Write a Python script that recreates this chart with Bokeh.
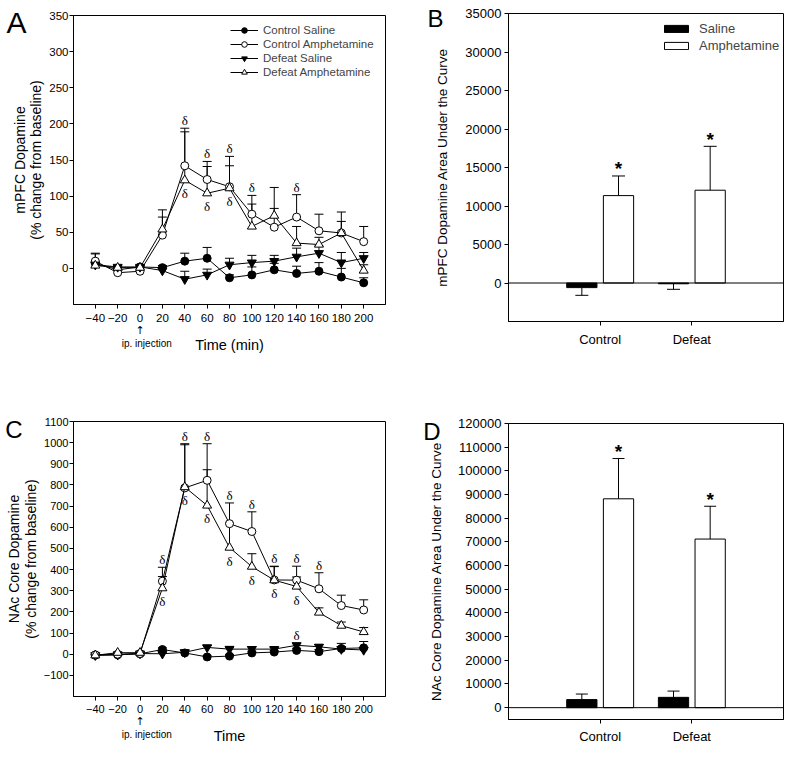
from bokeh.plotting import figure
from bokeh.layouts import column, row
from bokeh.models import (Range1d, FixedTicker, Whisker, TeeHead, ColumnDataSource,
                          Legend, LegendItem, Span, BasicTickFormatter, LinearAxis)
from bokeh.core.properties import value
from bokeh.embed import file_html
from bokeh.resources import INLINE

FONT = "Liberation Sans"
SERIF = "Liberation Serif"

# ---------------- data ----------------
time_min = [-40, -20, 0, 20, 40, 60, 80, 100, 120, 140, 160, 180, 200]
time_ticks = [-40, -20, 0, 20, 40, 60, 80, 100, 120, 140, 160, 180, 200]

a_ctrl_sal = [7, -2, 2, 1, 10, 14, -13, -9, -2, -7, -4, -12, -20]
a_ctrl_sal_err = [14, 3, 2, 3, 11, 15, 4, 11, 9, 10, 12, 12, 7]
a_ctrl_amph = [10, -6, -4, 46, 142, 123, 113, 75, 57, 71, 52, 49, 37]
a_ctrl_amph_err = [10, 3, 3, 25, 52, 25, 42, 26, 26, 31, 23, 29, 21]
a_def_sal = [5, 2, 2, -3, -15, -9, 5, 8, 10, 16, 21, 8, 14]
a_def_sal_err = [3, 2, 2, 3, 11, 8, 9, 10, 8, 12, 10, 14, 8]
a_def_amph = [4, 1, 1, 54, 122, 104, 111, 58, 73, 35, 33, 49, -3]
a_def_amph_err = [5, 2, 2, 27, 67, 37, 31, 31, 39, 23, 10, 16, 8]
a_delta_above = [40, 60, 80, 100, 140]
a_delta_below = [40, 60, 80]
a_yticks = [0, 50, 100, 150, 200, 250, 300, 350]

c_ctrl_sal = [-5, -3, 2, 22, 6, -13, -9, 6, 10, 18, 12, 27, 30]
c_ctrl_sal_err = [4, 3, 3, 8, 10, 6, 8, 8, 8, 10, 10, 24, 30]
c_ctrl_amph = [-3, 0, 3, 345, 786, 822, 617, 580, 351, 350, 309, 230, 209]
c_ctrl_amph_err = [4, 4, 4, 66, 209, 173, 98, 93, 65, 66, 76, 49, 48]
c_def_sal = [-5, -3, 3, 2, 9, 32, 24, 24, 24, 42, 35, 24, 20]
c_def_sal_err = [3, 3, 3, 5, 10, 10, 13, 12, 8, 10, 10, 10, 8]
c_def_amph = [-5, 7, 7, 312, 790, 703, 504, 414, 350, 320, 197, 135, 105]
c_def_amph_err = [4, 4, 4, 55, 200, 169, 116, 61, 64, 45, 22, 17, 21]
c_delta_above = [20, 40, 60, 80, 100, 120, 140, 160]
c_delta_below = [20, 40, 60, 80, 100, 120, 140]
c_delta_saline = [140]
c_yticks = [-100, 0, 100, 200, 300, 400, 500, 600, 700, 800, 900, 1000, 1100]

groups = ["Control", "Defeat"]
b_saline = [-600, -100]
b_saline_err = [1000, 720]
b_amph = [11350, 12050]
b_amph_err = [2550, 5700]
b_yticks = [0, 5000, 10000, 15000, 20000, 25000, 30000, 35000]

d_saline = [3400, 4350]
d_saline_err = [2350, 2650]
d_amph = [88200, 71200]
d_amph_err = [17000, 13850]
d_yticks = [0, 10000, 20000, 30000, 40000, 50000, 60000, 70000, 80000, 90000,
            100000, 110000, 120000]

injection_time = 0
injection_arrow = "↑"
injection_label = "ip. injection"


def base_fig(w, h, xr, yr, borders, tick_size):
    p = figure(width=w, height=h, x_range=Range1d(*xr), y_range=Range1d(*yr),
               output_backend="svg", toolbar_location=None, title=None,
               min_border_left=borders[0], min_border_right=borders[1],
               min_border_top=borders[2], min_border_bottom=borders[3])
    p.xgrid.visible = False
    p.ygrid.visible = False
    p.background_fill_color = "white"
    p.border_fill_color = "white"
    p.outline_line_color = "black"
    p.outline_line_alpha = 1.0
    p.outline_line_width = 1
    for ax in (p.xaxis[0], p.yaxis[0]):
        ax.axis_line_color = "black"
        ax.major_tick_line_color = "black"
        ax.major_tick_in = 0
        ax.major_tick_out = 4
        ax.minor_tick_line_color = None
        ax.major_label_text_font = FONT
        ax.major_label_text_font_size = tick_size
        ax.major_label_text_color = "black"
        ax.axis_label_text_font = FONT
        ax.axis_label_text_font_style = "normal"
        ax.axis_label_text_color = "black"
    return p


def bare_axis(tick, text, size, standoff, font=FONT):
    ax = LinearAxis(ticker=FixedTicker(ticks=[tick]),
                    major_label_overrides={tick: text})
    ax.axis_line_color = None
    ax.major_tick_line_color = None
    ax.minor_tick_line_color = None
    ax.major_tick_in = 0
    ax.major_tick_out = 0
    ax.major_label_standoff = standoff
    ax.major_label_text_font = font
    ax.major_label_text_font_size = size
    ax.major_label_text_color = "black"
    ax.major_label_text_line_height = 1.0
    ax.axis_label_text_font = FONT
    ax.axis_label_text_font_style = "normal"
    ax.axis_label_text_color = "black"
    return ax


def add_series(p, y, err, marker, fill, size):
    src = ColumnDataSource(dict(x=time_min, y=y,
                                top=[v + e for v, e in zip(y, err)]))
    p.add_layout(Whisker(source=src, base="x", lower="y", upper="top",
                         upper_head=TeeHead(size=9, line_color="black", line_width=1),
                         lower_head=None, line_color="black", line_width=1))
    l = p.line("x", "y", source=src, line_color="black", line_width=1)
    s = p.scatter("x", "y", source=src, marker=marker, size=size,
                  fill_color=fill, line_color="black", line_width=1)
    return l, s


def deltas(p, times, means, errs, above, offset):
    xs, ys = [], []
    for t in times:
        i = time_min.index(t)
        xs.append(t)
        ys.append(means[i] + errs[i] if above else means[i])
    p.text(x=xs, y=ys, text=["δ"] * len(xs), text_align="center",
           text_baseline="bottom" if above else "top", y_offset=offset,
           text_font=value(SERIF), text_font_size="13px", text_color="black")


def time_panel(w, h, yr, borders, tick_size, ylabel, xlabel, yticks):
    p = base_fig(w, h, (-59.5, 219.5), yr, borders, tick_size)
    p.xaxis.ticker = FixedTicker(ticks=time_ticks)
    p.yaxis.ticker = FixedTicker(ticks=yticks)
    p.yaxis.axis_label = ylabel
    p.yaxis.axis_label_text_font_size = "14px"
    p.yaxis.axis_label_text_line_height = 1.05
    p.yaxis.major_label_standoff = 1
    p.yaxis.axis_label_standoff = 2
    p.xaxis.major_label_standoff = 5
    # arrow under the 0 tick
    ax_arrow = bare_axis(injection_time, injection_arrow, "11px", -1, "DejaVu Sans")
    p.add_layout(ax_arrow, "below")
    # injection note + axis title on the same row
    ax_note = bare_axis(injection_time + 6, injection_label, "10px", -2)
    ax_note.axis_label = xlabel
    ax_note.axis_label_text_font_size = "14.5px"
    ax_note.axis_label_standoff = -15
    p.add_layout(ax_note, "below")
    return p


# ---------------- Panel A ----------------
pA = time_panel(396, 382, (-50, 350), (73, 11, 15, 78), "11.5px",
                "mPFC Dopamine\n(% change from baseline)", "Time (min)", a_yticks)
rA = [add_series(pA, a_ctrl_sal, a_ctrl_sal_err, "circle", "black", 8),
      add_series(pA, a_ctrl_amph, a_ctrl_amph_err, "circle", "white", 8),
      add_series(pA, a_def_sal, a_def_sal_err, "inverted_triangle", "black", 9),
      add_series(pA, a_def_amph, a_def_amph_err, "triangle", "white", 9)]
deltas(pA, a_delta_above, a_ctrl_amph, a_ctrl_amph_err, True, 0)
deltas(pA, a_delta_below, a_def_amph, a_def_amph_err, False, 6)
legA = Legend(items=[LegendItem(label=lab, renderers=list(r)) for lab, r in
                     zip(["Control Saline", "Control Amphetamine", "Defeat Saline",
                          "Defeat Amphetamine"], rA)],
              location=(157, 225))
legA.border_line_color = None
legA.background_fill_alpha = 0
legA.label_text_font = FONT
legA.label_text_font_size = "11.5px"
legA.glyph_width = 28
legA.glyph_height = 14
legA.label_height = 14
legA.spacing = 0
legA.padding = 0
legA.margin = 0
legA.label_standoff = 5
pA.add_layout(legA)
pA.add_layout(bare_axis(340, "A", "30px", -18), "left")

# ---------------- Panel C ----------------
pC = time_panel(396, 364, (-200, 1100), (73, 11, 39, 44), "11px",
                "NAc Core Dopamine\n(% change from baseline)", "Time", c_yticks)
pC.xaxis[0].major_label_standoff = 4
add_series(pC, c_ctrl_sal, c_ctrl_sal_err, "circle", "black", 8)
add_series(pC, c_def_sal, c_def_sal_err, "inverted_triangle", "black", 9)
add_series(pC, c_ctrl_amph, c_ctrl_amph_err, "circle", "white", 8)
add_series(pC, c_def_amph, c_def_amph_err, "triangle", "white", 9)
deltas(pC, c_delta_above, c_ctrl_amph, c_ctrl_amph_err, True, 0)
deltas(pC, c_delta_below, c_def_amph, c_def_amph_err, False, 6)
deltas(pC, c_delta_saline, c_def_sal, c_def_sal_err, True, 0)
pC.add_layout(bare_axis(1061, "C", "24px", -20), "left")


def bar_panel(w, h, yr, borders, ylabel, yticks, sal, sal_err, amph, amph_err, cap, lstand):
    p = base_fig(w, h, (0, 3), yr, borders, "13px")
    p.xaxis.ticker = FixedTicker(ticks=[1, 2])
    p.xaxis.major_label_overrides = {1: groups[0], 2: groups[1]}
    p.yaxis.ticker = FixedTicker(ticks=yticks)
    p.yaxis.formatter = BasicTickFormatter(use_scientific=False)
    p.yaxis.axis_label = ylabel
    p.yaxis.axis_label_text_font_size = "13.5px"
    p.yaxis.major_label_standoff = 3
    p.yaxis.axis_label_standoff = lstand
    xs_sal = [i + 1 - 0.2 for i in range(len(groups))]
    xs_amph = [i + 1 + 0.2 for i in range(len(groups))]
    p.add_layout(Span(location=0, dimension="width", line_color="black", line_width=1))
    rs = p.vbar(x=xs_sal, top=sal, bottom=0, width=0.33, fill_color="black",
                line_color="black", line_width=1)
    ra = p.vbar(x=xs_amph, top=amph, bottom=0, width=0.33, fill_color="white",
                line_color="black", line_width=1)
    for xs, m, e in ((xs_sal, sal, sal_err), (xs_amph, amph, amph_err)):
        tips = [v + (err if v >= 0 else -err) for v, err in zip(m, e)]
        src = ColumnDataSource(dict(x=xs, m=m, tip=tips))
        p.add_layout(Whisker(source=src, base="x", lower="m", upper="tip",
                             upper_head=TeeHead(size=cap, line_color="black", line_width=1),
                             lower_head=None, line_color="black", line_width=1,
                             level="glyph"))
    tops = [v + e for v, e in zip(amph, amph_err)]
    p.text(x=xs_amph, y=tops, text=["*"] * len(xs_amph), text_align="center",
           text_baseline="middle", y_offset=-7, text_font=value(FONT),
           text_font_style="bold", text_font_size="19px", text_color="black")
    return p, rs, ra


pB, rbs, rba = bar_panel(388, 382, (-5000, 35000), (112, 1, 13, 61),
                         "mPFC Dopamine Area Under the Curve", b_yticks,
                         b_saline, b_saline_err, b_amph, b_amph_err, 13, 12)
pB.xaxis.major_label_standoff = 6
legB = Legend(items=[LegendItem(label="Saline", renderers=[rbs]),
                     LegendItem(label="Amphetamine", renderers=[rba])],
              location=(153, 268))
legB.border_line_color = None
legB.background_fill_alpha = 0
legB.label_text_font = FONT
legB.label_text_font_size = "13px"
legB.glyph_width = 30
legB.glyph_height = 9
legB.label_height = 9
legB.spacing = 2
legB.padding = 0
legB.margin = 0
legB.label_standoff = 8
pB.add_layout(legB)
pB.add_layout(bare_axis(34290, "B", "24px", -11), "left")

pD, _, _ = bar_panel(388, 364, (-5000, 120000), (112, 1, 41, 24),
                     "NAc Core Dopamine Area Under the Curve", d_yticks,
                     d_saline, d_saline_err, d_amph, d_amph_err, 12, 11)
pD.xaxis.major_label_standoff = 5
pD.add_layout(bare_axis(116450, "D", "24px", -14), "left")

layout = row(column(pA, pC), column(pB, pD))
open("out.html", "w").write(file_html(layout, INLINE))
